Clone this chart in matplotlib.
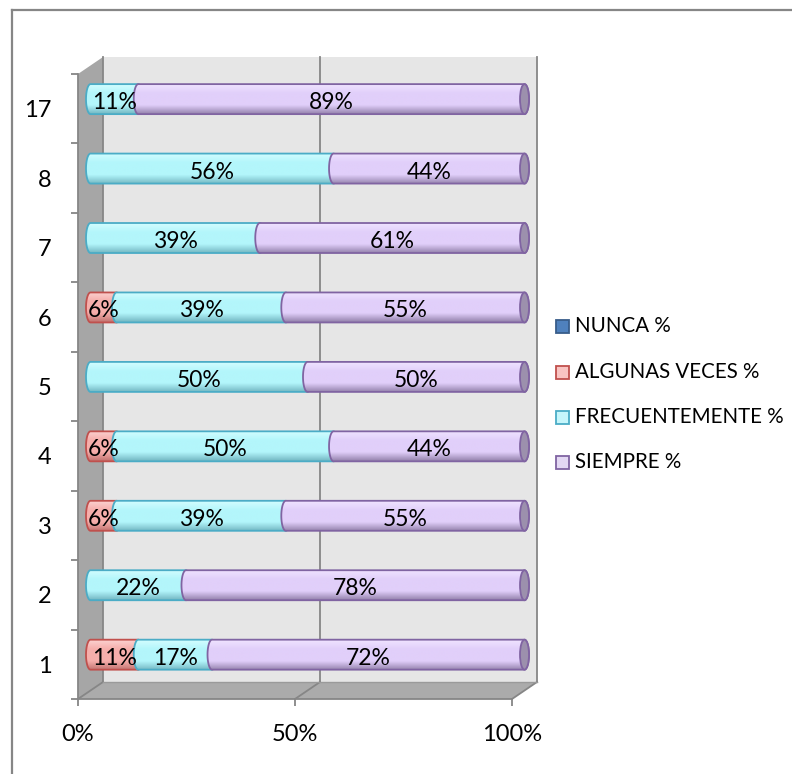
import numpy as np
import matplotlib
matplotlib.use("Agg")
import matplotlib.pyplot as plt
from matplotlib.path import Path
from matplotlib.patches import PathPatch, Polygon, Rectangle, Ellipse
from matplotlib.lines import Line2D
from matplotlib.colors import to_rgb

# ---- data ----
categories = ['1', '2', '3', '4', '5', '6', '7', '8', '17']
nunca = [0, 0, 0, 0, 0, 0, 0, 0, 0]
algunas = [11, 0, 6, 6, 0, 6, 0, 0, 0]
frecuentemente = [17, 22, 39, 50, 50, 39, 39, 56, 11]
siempre = [72, 78, 55, 44, 50, 55, 61, 44, 89]
series_names = ['NUNCA %', 'ALGUNAS VECES %', 'FRECUENTEMENTE %', 'SIEMPRE %']
x_ticks = [0, 50, 100]
x_ticklabels = ['0%', '50%', '100%']

# ---- style ----
FONT = 'Lato'
plt.rcParams['font.family'] = [FONT, 'DejaVu Sans']
W, H = 792, 774
fig = plt.figure(figsize=(W / 100, H / 100), dpi=100)

styles = [
    dict(face='#4f81bd', edge='#385d8a', top='#6f9ad0', mid='#4f81bd', bot='#2f5587'),
    dict(face='#f9c4c2', edge='#c0504d', top='#fbd0ce', mid='#f6aeab', bot='#c27471'),
    dict(face='#c6f6fb', edge='#4bacc6', top='#d2fdff', mid='#b3f6fb', bot='#74b8c3'),
    dict(face='#e3d8f3', edge='#8064a2', top='#efe3ff', mid='#e1cffa', bot='#9583ad'),
]

L, R, T, B = 78, 512, 74, 699
ax = fig.add_axes([L / W, (H - B) / H, (R - L) / W, (B - T) / H])
ax.set_xlim(0, 100)
ax.set_ylim(-0.5, len(categories) - 0.5)
ax.patch.set_visible(False)

sx = (R - L) / 100.0
sy = (B - T) / len(categories)
DX, DY = 25 / sx, 17 / sy
BX, BY = 12.5 / sx, 9.6 / sy
HH = 15 / sy
EA = 4.5 / sx

n = len(categories)
y0, y1 = -0.5, n - 0.5
wall_c = '#e6e6e6'
side_c = '#a6a6a6'
floor_c = '#ababab'
line_c = '#868686'

ax.add_patch(Polygon([(DX, y0 + DY), (100 + DX, y0 + DY), (100 + DX, y1 + DY), (DX, y1 + DY)],
                     closed=True, fc=wall_c, ec='none', clip_on=False, zorder=0))
ax.add_patch(Polygon([(0, y0), (DX, y0 + DY), (DX, y1 + DY), (0, y1)],
                     closed=True, fc=side_c, ec='none', clip_on=False, zorder=0))
ax.add_patch(Polygon([(0, y0), (100, y0), (100 + DX, y0 + DY), (DX, y0 + DY)],
                     closed=True, fc=floor_c, ec='none', clip_on=False, zorder=0))
for xv in x_ticks:
    ax.plot([xv + DX, xv + DX], [y0 + DY, y1 + DY], color=line_c, lw=1.3, clip_on=False, zorder=1)
    ax.plot([xv, xv + DX], [y0, y0 + DY], color=line_c, lw=1.3, clip_on=False, zorder=1)
ax.plot([DX, 100 + DX], [y0 + DY, y0 + DY], color='#9a9a9a', lw=1.0, clip_on=False, zorder=1)

for s in ['top', 'right']:
    ax.spines[s].set_visible(False)
for s in ['left', 'bottom']:
    ax.spines[s].set_color(line_c)
    ax.spines[s].set_linewidth(1.3)
ax.set_xticks(x_ticks)
ax.set_xticklabels(x_ticklabels)
ax.set_yticks(range(n))
ax.set_yticklabels(categories)
ax.set_yticks(np.arange(-0.5, n, 1.0), minor=True)
ax.tick_params(axis='y', which='major', length=0, pad=19, labelsize=17)
ax.tick_params(axis='y', which='minor', length=5, width=1.3, color=line_c)
ax.tick_params(axis='x', which='major', length=5, width=1.3, color=line_c, pad=13, labelsize=17)


def grad_img(st):
    stops = [(0.0, to_rgb(st['top'])), (0.3, to_rgb(st['mid'])), (0.7, to_rgb(st['mid'])), (1.0, to_rgb(st['bot']))]
    t = np.linspace(0, 1, 64)
    img = np.zeros((64, 1, 3))
    for c in range(3):
        img[:, 0, c] = np.interp(t, [s[0] for s in stops], [s[1][c] for s in stops])
    return img


def seg_path(xa, xb, yc):
    th = np.linspace(np.pi / 2, -np.pi / 2, 30)
    right = [(xb + EA * np.cos(a), yc + HH * np.sin(a)) for a in th]
    th2 = np.linspace(-np.pi / 2, -3 * np.pi / 2, 30)
    left = [(xa + EA * np.cos(a), yc + HH * np.sin(a)) for a in th2]
    verts = [(xa, yc + HH)] + right + left
    return Path(verts + [verts[0]], closed=True)


all_series = [nunca, algunas, frecuentemente, siempre]
for i in range(n):
    yc = i + BY
    start = 0.0
    z = 3
    nonzero = [k for k in range(4) if all_series[k][i] > 0]
    for k in nonzero:
        v = all_series[k][i]
        st = styles[k]
        xa, xb = start + BX, start + v + BX
        p = seg_path(xa, xb, yc)
        patch = PathPatch(p, fc='none', ec=st['edge'], lw=1.3, zorder=z + 0.5, clip_on=False)
        im = ax.imshow(grad_img(st), extent=(xa - EA, xb + EA, yc - HH, yc + HH),
                       aspect='auto', origin='upper', zorder=z, interpolation='bilinear')
        im.set_clip_path(PathPatch(p, transform=ax.transData))
        im.set_clip_box(fig.bbox)
        ax.add_patch(patch)
        if k == nonzero[-1]:
            ax.add_patch(Ellipse((xb, yc), 2 * EA, 2 * HH, fc='#9c90ad', ec=st['edge'], lw=1.3,
                                 zorder=z + 0.6, clip_on=False))
        ax.text(start + v / 2 + BX, yc - 0.05, f'{v}%', ha='center', va='center',
                fontsize=16.5, color='black', zorder=20)
        start += v
        z += 1

ax.set_xlim(0, 100)
ax.set_ylim(-0.5, n - 0.5)

leg_y = [326, 372, 417, 462]
for k, name in enumerate(series_names):
    yy = leg_y[k]
    fig.patches.append(Rectangle((556 / W, (H - yy - 7) / H), 13 / W, 13 / H,
                                 transform=fig.transFigure, fc=styles[k]['face'],
                                 ec=styles[k]['edge'], lw=1.3))
    fig.text(575 / W, (H - yy) / H, name, ha='left', va='center', fontsize=14.8)

fig.add_artist(Line2D([12 / W, 12 / W], [0, (H - 9.5) / H], color=line_c, lw=1.6, transform=fig.transFigure))
fig.add_artist(Line2D([12 / W, 1.0], [(H - 9.5) / H, (H - 9.5) / H], color=line_c, lw=1.6, transform=fig.transFigure))

fig.savefig('out.png', dpi=100)
